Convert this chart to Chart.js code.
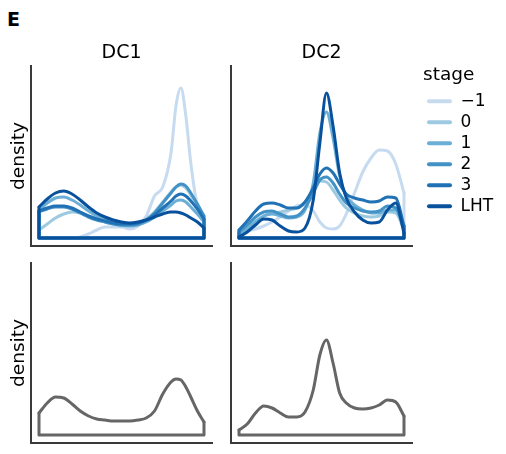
<!DOCTYPE html>
<html><head><meta charset="utf-8">
<script src="https://cdn.jsdelivr.net/npm/chart.js@4.4.1/dist/chart.umd.min.js"></script>
<style>
html,body{margin:0;padding:0;background:#fff;}
#wrap{position:relative;width:506px;height:454px;overflow:hidden;background:#fff}
canvas{position:absolute;}
#lbl{position:absolute;left:7px;top:10px;font:bold 19px 'DejaVu Sans',sans-serif;line-height:19px;color:#000}
</style></head><body>
<div id="wrap">
<div id="lbl">E</div>
<canvas id="cA" width="222" height="250" style="left:0;top:0"></canvas>
<canvas id="cB" width="192" height="250" style="left:222px;top:0"></canvas>
<canvas id="cC" width="222" height="204" style="left:0;top:250px"></canvas>
<canvas id="cD" width="192" height="204" style="left:222px;top:250px"></canvas>
<canvas id="cE" width="220" height="250" style="left:412px;top:0"></canvas>
</div>
<script>
// ---------- data ----------
const stages = ['\u22121','0','1','2','3','LHT'];
const stageColors = ['#c6dbef','#9ecae1','#6baed6','#4292c6','#2171b5','#08519c'];
const allColor = '#666666';
const panelTitles = ['DC1','DC2'];
const yTitle = 'density';
const legendTitle = 'stage';

const dc1Grid = [0,0.05,0.1,0.15,0.2,0.25,0.3,0.35,0.4,0.45,0.5,0.55,0.6,0.65,0.7,0.75,0.8,0.83,0.86,0.89,0.92,0.96,1];
const dc1_stageM1  = [0,0,0,0,0,0.01,0.04,0.08,0.11,0.11,0.11,0.09,0.12,0.22,0.42,0.51,0.85,1.32,1.50,1.22,0.75,0.32,0.18];
const dc1_stage0   = [0.08,0.14,0.20,0.24,0.26,0.25,0.22,0.19,0.16,0.14,0.12,0.12,0.14,0.19,0.26,0.36,0.46,0.51,0.53,0.50,0.43,0.31,0.20];
const dc1_stage1   = [0.28,0.35,0.40,0.41,0.38,0.33,0.27,0.22,0.18,0.15,0.13,0.12,0.13,0.16,0.21,0.27,0.33,0.37,0.38,0.36,0.31,0.24,0.16];
const dc1_stage2   = [0.26,0.29,0.31,0.31,0.29,0.25,0.21,0.18,0.16,0.14,0.13,0.13,0.14,0.18,0.25,0.35,0.45,0.51,0.54,0.52,0.45,0.34,0.22];
const dc1_stage3   = [0.27,0.30,0.32,0.32,0.30,0.26,0.22,0.19,0.17,0.15,0.14,0.14,0.15,0.18,0.23,0.30,0.37,0.42,0.44,0.42,0.37,0.29,0.19];
const dc1_stageLHT = [0.31,0.39,0.45,0.47,0.44,0.38,0.31,0.25,0.21,0.18,0.16,0.15,0.16,0.18,0.21,0.24,0.26,0.26,0.25,0.23,0.20,0.16,0.10];
const dc1_all      = [0.22,0.32,0.38,0.37,0.31,0.24,0.19,0.16,0.15,0.14,0.14,0.14,0.15,0.17,0.24,0.41,0.53,0.56,0.55,0.48,0.38,0.24,0.13];

const dc2Grid = [0,0.05,0.1,0.15,0.2,0.25,0.3,0.35,0.4,0.45,0.49,0.53,0.57,0.61,0.65,0.7,0.75,0.8,0.85,0.9,0.95,1];
const dc2_stageM1  = [0.05,0.07,0.09,0.12,0.16,0.21,0.27,0.32,0.33,0.27,0.16,0.10,0.09,0.12,0.24,0.45,0.66,0.80,0.88,0.87,0.74,0.45];
const dc2_stage0   = [0.05,0.10,0.17,0.22,0.25,0.26,0.28,0.30,0.36,0.48,0.57,0.56,0.48,0.38,0.30,0.25,0.22,0.21,0.22,0.26,0.25,0.08];
const dc2_stage1   = [0.04,0.09,0.16,0.22,0.24,0.22,0.20,0.21,0.28,0.55,1.05,1.26,1.00,0.62,0.42,0.33,0.28,0.25,0.25,0.28,0.28,0.12];
const dc2_stage2   = [0.06,0.13,0.21,0.26,0.27,0.24,0.21,0.22,0.30,0.45,0.58,0.61,0.55,0.44,0.35,0.30,0.27,0.26,0.27,0.32,0.30,0.10];
const dc2_stage3   = [0.08,0.17,0.27,0.34,0.35,0.33,0.30,0.30,0.36,0.50,0.64,0.70,0.65,0.54,0.44,0.40,0.38,0.36,0.37,0.41,0.40,0.12];
const dc2_stageLHT = [0.01,0.06,0.13,0.19,0.18,0.12,0.07,0.06,0.10,0.38,0.95,1.45,1.12,0.65,0.40,0.26,0.18,0.15,0.16,0.28,0.35,0.05];
const dc2_all      = [0.05,0.11,0.22,0.29,0.27,0.22,0.18,0.18,0.23,0.45,0.80,0.95,0.72,0.42,0.32,0.27,0.26,0.27,0.30,0.35,0.33,0.19];

const dc1Stages = [dc1_stageM1, dc1_stage0, dc1_stage1, dc1_stage2, dc1_stage3, dc1_stageLHT];
const dc2Stages = [dc2_stageM1, dc2_stage0, dc2_stage1, dc2_stage2, dc2_stage3, dc2_stageLHT];

// ---------- chart ----------
Chart.defaults.font.family = "'DejaVu Sans', sans-serif";
Chart.defaults.color = '#000';
const AXIS_COLOR = '#3a3a3a';
const X_MIN = -0.0485, X_MAX = 1.0485, Y_MIN = -0.08, Y_MAX = 1.72;

function buildDatasets(grid, seriesList, colors) {
  const ds = [];
  const n = seriesList.length;
  seriesList.forEach((vals, i) => {
    const last = grid.length - 1;
    const common = {borderColor: colors[i], borderWidth: 3, showLine: true, pointRadius: 0,
      fill: false, order: n - 1 - i, borderCapStyle: 'round', borderJoinStyle: 'round'};
    ds.push(Object.assign({data: grid.map((x, j) => ({x: x, y: vals[j]})),
      cubicInterpolationMode: 'monotone'}, common));
    ds.push(Object.assign({data: [{x: grid[0], y: vals[0]}, {x: grid[0], y: 0},
      {x: grid[last], y: 0}, {x: grid[last], y: vals[last]}], tension: 0}, common));
  });
  return ds;
}

function hiddenAxisBase() {
  return {type: 'linear', ticks: {display: false}, grid: {display: false, drawTicks: false}};
}

function panel(id, grid, seriesList, colors, o) {
  const scales = {
    x: Object.assign(hiddenAxisBase(), {position: 'bottom', min: X_MIN, max: X_MAX,
      border: {display: true, color: AXIS_COLOR, width: 2}}),
    y: Object.assign(hiddenAxisBase(), {position: 'left', min: Y_MIN, max: Y_MAX,
      border: {display: true, color: AXIS_COLOR, width: 2},
      title: o.yTitle ? {display: true, text: o.yTitle, color: '#000',
        font: {size: 18.5, lineHeight: '20px'}, padding: {top: 9.5, bottom: 1.5}} : {display: false}})
  };
  if (o.topTitle) {
    scales.xTop = Object.assign(hiddenAxisBase(), {axis: 'x', position: 'top', min: X_MIN, max: X_MAX,
      border: {display: false},
      title: {display: true, text: o.topTitle, color: '#000', font: {size: 19, lineHeight: '24px'},
        padding: {top: 41.5, bottom: 0.5}}});
  }
  return new Chart(document.getElementById(id), {
    type: 'scatter',
    data: {datasets: buildDatasets(grid, seriesList, colors)},
    options: {
      responsive: false, animation: false, events: [],
      layout: {padding: o.padding},
      scales: scales,
      plugins: {legend: {display: false}, tooltip: {enabled: false}, title: {display: false}}
    }
  });
}

panel('cA', dc1Grid, dc1Stages, stageColors, {yTitle: yTitle, topTitle: panelTitles[0],
  padding: {left: 0, right: 10, top: 0, bottom: 4}});
panel('cB', dc2Grid, dc2Stages, stageColors, {topTitle: panelTitles[1],
  padding: {left: 9, right: 2, top: 0, bottom: 4}});
panel('cC', dc1Grid, [dc1_all], [allColor], {yTitle: yTitle,
  padding: {left: 0, right: 10, top: 13, bottom: 11}});
panel('cD', dc2Grid, [dc2_all], [allColor], {
  padding: {left: 9, right: 2, top: 13, bottom: 11}});

// legend (its canvas extends past the page edge so the legend box is not squeezed)
new Chart(document.getElementById('cE'), {
  type: 'line',
  data: {datasets: stages.map((s, i) => ({label: s, data: [], borderColor: stageColors[i], backgroundColor: stageColors[i]}))},
  options: {
    responsive: false, animation: false, events: [],
    layout: {padding: {left: 11, top: 60}},
    scales: {x: {display: false}, y: {display: false}},
    plugins: {
      tooltip: {enabled: false},
      legend: {display: true, position: 'left', align: 'start',
        title: {display: true, text: legendTitle, position: 'start', color: '#000',
          font: {size: 18.5}, padding: {top: 6.15, bottom: 0.45}},
        labels: {color: '#000', font: {size: 17}, padding: 4, boxWidth: 25, boxHeight: 4,
          generateLabels: (chart) => chart.data.datasets.map((d, i) => ({
            text: d.label, fillStyle: d.borderColor, strokeStyle: d.borderColor,
            lineWidth: 0, borderRadius: 2, hidden: false, datasetIndex: i, fontColor: '#000'}))}
      }
    }
  }
});
</script>
</body></html>
